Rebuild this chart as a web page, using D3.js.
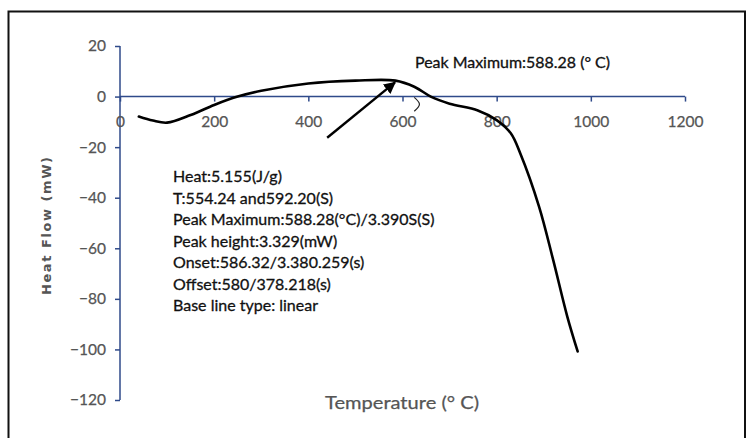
<!DOCTYPE html>
<html>
<head>
<meta charset="utf-8">
<script src="https://cdn.jsdelivr.net/npm/d3@7/dist/d3.min.js"></script>
<style>
  html, body { margin: 0; padding: 0; background: #fff; }
  svg { display: block; font-family: Lato, "Open Sans", sans-serif; }
</style>
</head>
<body>
<svg id="chart" width="747" height="438"></svg>
<script>
// DSC curve: temperature (°C) vs heat flow (mW)
const temperature = [40, 70, 100, 150, 200, 250, 300, 400, 500, 585, 625, 660, 700, 760, 800, 830, 850, 890, 920, 950, 972];
const heatFlow    = [-7.9, -9.5, -10.3, -7.3, -3.3, 0, 2.3, 5.2, 6.3, 6.3, 3.9, 0, -2.8, -5.5, -9.3, -14.5, -22.4, -43.5, -64.6, -87, -100.8];

const xTicks = [0, 200, 400, 600, 800, 1000, 1200];
const yTicks = [20, 0, -20, -40, -60, -80, -100, -120];

// peak pointer arrow (from, to) in data units
const arrowFrom = [440, -16.3];
const arrowTo   = [584, 5.6];
// small bracket mark near the peak end
const bracketT = [625, 636, 625];
const bracketH = [-0.3, -3.0, -5.8];

const peakLabel = "Peak Maximum:588.28 (° C)";
const infoLines = [
  "Heat:5.155(J/g)",
  "T:554.24 and592.20(S)",
  "Peak Maximum:588.28(°C)/3.390S(S)",
  "Peak height:3.329(mW)",
  "Onset:586.32/3.380.259(s)",
  "Offset:580/378.218(s)",
  "Base line type: linear"
];

const svg = d3.select("#chart");
const axisColor = "#2F4A8A";
const labelColor = "#555555";
const mainFont = "Lato, 'Open Sans', sans-serif";

const x = d3.scaleLinear().domain([0, 1200]).range([120, 685]);
const y = d3.scaleLinear().domain([-120, 20]).range([400, 46]);

// outer frame
svg.append("path")
  .attr("d", "M8.5,440 V11.5 H745 V440")
  .attr("fill", "none").attr("stroke", "#111").attr("stroke-width", 2);

// y axis
const yAxis = svg.append("g").attr("transform", `translate(${x(0)},0)`)
  .call(d3.axisLeft(y).tickValues(yTicks).tickSize(5).tickPadding(9).tickFormat(d3.format("d")));
yAxis.attr("font-family", null).attr("font-size", null);
yAxis.select(".domain").attr("stroke", axisColor).attr("stroke-width", 1.5).attr("d", `M0,${y(20)}V${y(-120)}`);
yAxis.selectAll(".tick line").attr("stroke", axisColor).attr("stroke-width", 1.5);
yAxis.selectAll(".tick text").attr("fill", labelColor)
  .style("font-family", mainFont).style("font-size", "15.5px")
  .attr("stroke", labelColor).attr("stroke-width", 0.25);

// x axis along zero line
const xAxis = svg.append("g").attr("transform", `translate(0,${y(0)})`)
  .call(d3.axisBottom(x).tickValues(xTicks).tickSize(5).tickPadding(14).tickFormat(d3.format("d")));
xAxis.attr("font-family", null).attr("font-size", null);
xAxis.select(".domain").attr("stroke", axisColor).attr("stroke-width", 1.5).attr("d", `M${x(0)},0H${x(1200)}`);
xAxis.selectAll(".tick line").attr("stroke", axisColor).attr("stroke-width", 1.5);
xAxis.selectAll(".tick text").attr("fill", labelColor)
  .style("font-family", mainFont).style("font-size", "15.5px")
  .attr("stroke", labelColor).attr("stroke-width", 0.25);

// curve
const pts = temperature.map((t, i) => [t, heatFlow[i]]);
svg.append("path")
  .datum(pts)
  .attr("fill", "none").attr("stroke", "#000").attr("stroke-width", 2.6)
  .attr("stroke-linecap", "round")
  .attr("d", d3.line().x(d => x(d[0])).y(d => y(d[1])).curve(d3.curveCatmullRom.alpha(0.5)));

// arrow
svg.append("defs").append("marker")
  .attr("id", "head").attr("viewBox", "0 0 10 10").attr("refX", 9).attr("refY", 5)
  .attr("markerWidth", 5).attr("markerHeight", 5).attr("orient", "auto")
  .append("path").attr("d", "M0,0 L10,5 L0,10 Z").attr("fill", "#000");
svg.append("line")
  .attr("x1", x(arrowFrom[0])).attr("y1", y(arrowFrom[1]))
  .attr("x2", x(arrowTo[0])).attr("y2", y(arrowTo[1]))
  .attr("stroke", "#000").attr("stroke-width", 2.4)
  .attr("marker-end", "url(#head)");

// bracket mark
svg.append("path")
  .datum(bracketT.map((t, i) => [t, bracketH[i]]))
  .attr("fill", "none").attr("stroke", "#222").attr("stroke-width", 1.2)
  .attr("d", d3.line().x(d => x(d[0])).y(d => y(d[1])).curve(d3.curveNatural));

// peak label
svg.append("text")
  .attr("x", 415).attr("y", 68)
  .style("font-family", mainFont).style("font-size", "15px")
  .attr("fill", "#111").attr("stroke", "#111").attr("stroke-width", 0.3)
  .attr("textLength", 195).attr("lengthAdjust", "spacingAndGlyphs")
  .text(peakLabel);

// info block
svg.append("g").selectAll("text").data(infoLines).join("text")
  .attr("x", 173)
  .attr("y", (d, i) => 182 + i * 21.5)
  .style("font-family", mainFont).style("font-size", "16px")
  .attr("fill", "#111").attr("stroke", "#111").attr("stroke-width", 0.3)
  .text(d => d);

// axis titles
svg.append("text")
  .attr("x", 402).attr("y", 409)
  .attr("text-anchor", "middle")
  .style("font-family", mainFont).style("font-size", "18px")
  .attr("fill", labelColor).attr("stroke", labelColor).attr("stroke-width", 0.25)
  .attr("textLength", 154).attr("lengthAdjust", "spacingAndGlyphs")
  .text("Temperature (° C)");

svg.append("text")
  .attr("transform", `translate(51,226) rotate(-90)`)
  .attr("text-anchor", "middle")
  .style("font-family", "'DejaVu Sans', sans-serif").style("font-size", "13px").style("font-weight", "bold")
  .attr("fill", labelColor)
  .attr("textLength", 138).attr("lengthAdjust", "spacing")
  .text("Heat Flow (mW)");
</script>
</body>
</html>
